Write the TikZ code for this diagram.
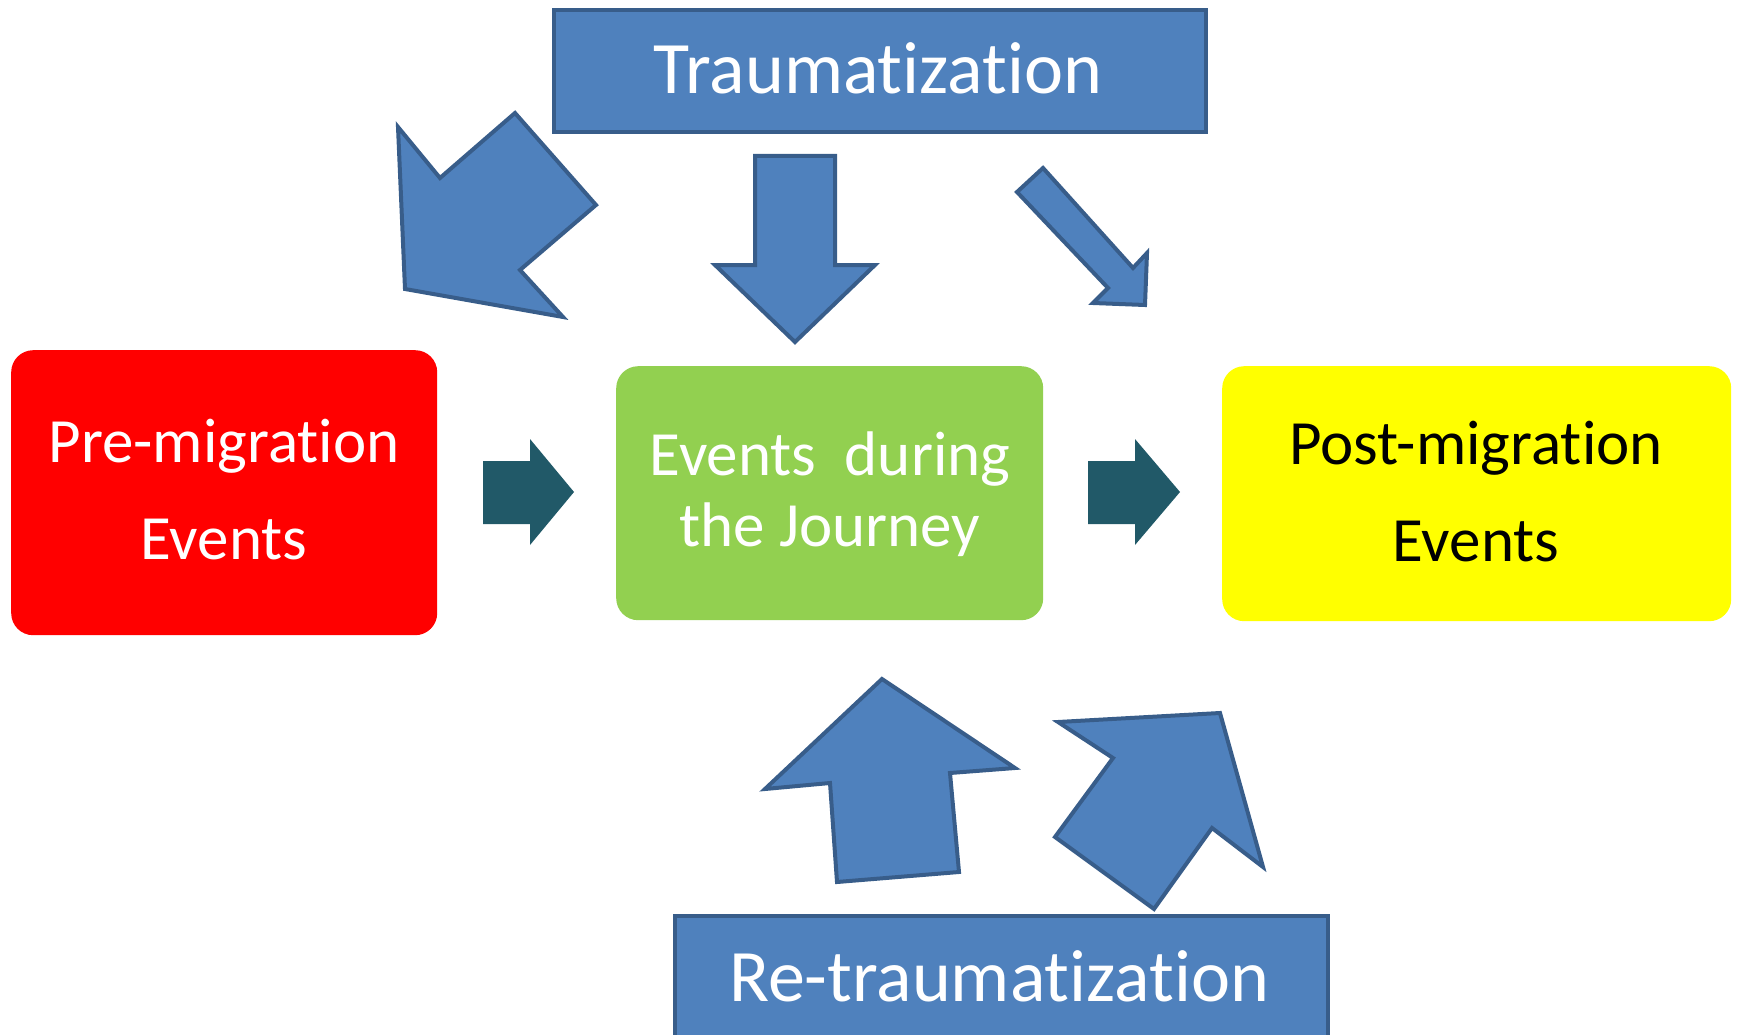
\documentclass[tikz,border=0pt]{standalone}
\usepackage{fontspec}
\setmainfont{Carlito}[Ligatures={NoCommon}]
\definecolor{bfill}{HTML}{4F81BD}
\definecolor{bline}{HTML}{385D8A}
\definecolor{tealarr}{HTML}{215968}
\definecolor{gfill}{HTML}{92D050}
\definecolor{yfill}{HTML}{FFFF00}
\definecolor{rfill}{HTML}{FF0000}
\begin{document}
\begin{tikzpicture}[x=1pt,y=-1pt,
  bluebox/.style={draw=bline,fill=bfill,line width=4pt,rectangle,inner sep=0pt},
  eventbox/.style={rectangle,rounded corners=22pt,inner sep=0pt,minimum width=#1},
  blockarrow/.style={draw=bline,fill=bfill,line width=4pt,line join=miter},
  tealarrow/.style={fill=tealarr},
  bigtxt/.style={anchor=base,inner sep=0pt,text=white,font=\fontsize{74}{88}\selectfont},
  midtxt/.style={anchor=base,inner sep=0pt,font=\fontsize{63}{75}\selectfont}]
\useasboundingbox (0,0) rectangle (1739,1035);
\clip (0,0) rectangle (1739,1035);

% boxes
\node[bluebox,anchor=north west,minimum width=652pt,minimum height=122pt] (trauma) at (552,8) {};
\node[bigtxt] (traumatext) at (878,94) {Traumatization};

\node[eventbox=426pt,fill=rfill,minimum height=285pt,anchor=north west] (pre) at (11,350) {};
\node[midtxt,text=white] (pre1) at (224,462) {Pre-migration};
\node[midtxt,text=white] (pre2) at (224,559) {Events};

\node[eventbox=427pt,fill=gfill,minimum height=254pt,anchor=north west] (during) at (616,366) {};
\node[midtxt,text=white] (during1) at (830,475) {Events\ \ during};
\node[midtxt,text=white] (during2) at (830,546) {the Journey};

\node[eventbox=509pt,fill=yfill,minimum height=255pt,anchor=north west] (post) at (1222,366) {};
\node[midtxt,text=black] (post1) at (1476,464) {Post-migration};
\node[midtxt,text=black] (post2) at (1476,561) {Events};

\node[bluebox,anchor=north west,minimum width=653pt,minimum height=140pt] (retrauma) at (673,914) {};
\node[bigtxt] (retraumatext) at (999,1001) {Re-traumatization};

% teal arrows
\fill[tealarrow] (483,461) -- (530,461) -- (530,439) -- (574,492) -- (530,545) -- (530,524) -- (483,524) -- cycle;
\fill[tealarrow] (1088,461) -- (1135,461) -- (1135,439) -- (1180,492) -- (1135,545) -- (1135,524) -- (1088,524) -- cycle;

% blue block arrows
\draw[blockarrow] (515,113) -- (596,205) -- (520,270) -- (563,317) -- (405,289) -- (398,127) -- (440,178) -- cycle;
\draw[blockarrow] (755,156) -- (835,156) -- (835,265) -- (875,265) -- (795,342) -- (715,265) -- (755,265) -- cycle;
\draw[blockarrow] (1017,192) -- (1043,168) -- (1133,268) -- (1147,253) -- (1145,305) -- (1093,303) -- (1108,288) -- cycle;
\draw[blockarrow] (882,679) -- (1015,768) -- (950,773) -- (959,872) -- (837,882) -- (830,783) -- (765,789) -- cycle;
\draw[blockarrow] (1058,722) -- (1220,713) -- (1263,867) -- (1212,828) -- (1154,909) -- (1055,837) -- (1113,758) -- cycle;
\end{tikzpicture}
\end{document}
